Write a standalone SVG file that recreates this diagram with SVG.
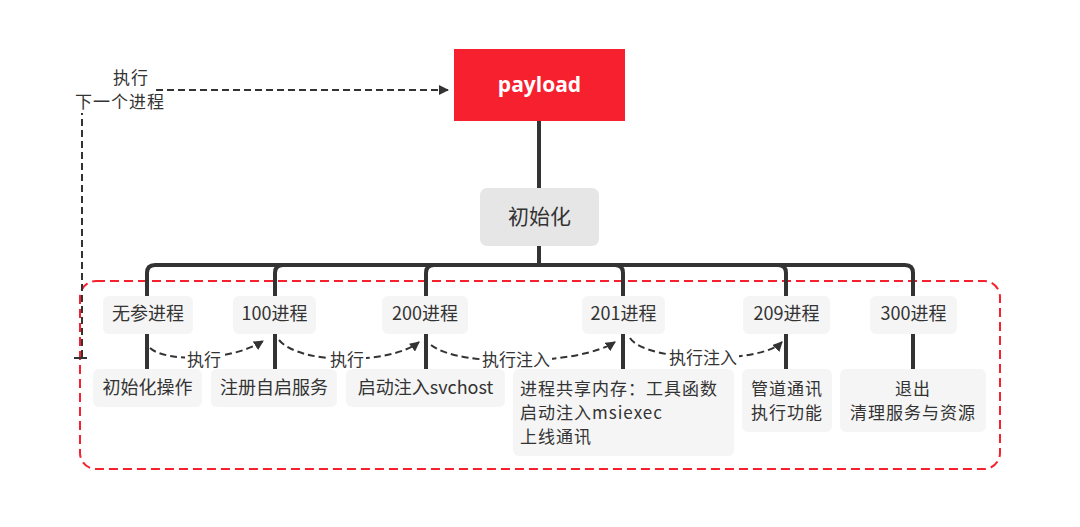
<svg xmlns="http://www.w3.org/2000/svg" width="1080" height="527" viewBox="0 0 1080 527">
<defs>
<marker id="ah" viewBox="0 0 10 10" refX="9" refY="5" markerWidth="5" markerHeight="5" orient="auto-start-reverse" markerUnits="strokeWidth">
<path d="M0,0 L10,5 L0,10 z" fill="#333"/>
</marker>
<style>
.t{font-family:"Noto Sans CJK SC","Noto Sans",sans-serif;fill:#333;}
.m{font-size:17px;letter-spacing:1px;}
.tree{fill:none;stroke:#333;stroke-width:4;stroke-linecap:butt;}
.dash{fill:none;stroke:#333;stroke-width:2;stroke-dasharray:7,4;}
.lbl{font-family:"Noto Sans CJK SC",sans-serif;font-size:17px;fill:#333;text-anchor:middle;}
.n1{fill:#f5f5f5;}
.n2{fill:#f5f5f5;}
</style>
</defs>
<rect width="1080" height="527" fill="#fff"/>

<!-- red dashed region -->
<rect x="80" y="281" width="920" height="188" rx="16" fill="none" stroke="#f7202f" stroke-width="2" stroke-dasharray="9,5"/>

<g id="connectors">
<path class="tree" d="M539,121 V188"/>
<path class="tree" d="M539,246 V265"/>
<path class="tree" d="M147,296 V273 Q147,265 155,265 H905 Q913,265 913,273 V296"/>
<path class="tree" d="M275,296 V273 Q275,265 283,265"/>
<path class="tree" d="M426,296 V273 Q426,265 434,265"/>
<path class="tree" d="M623,296 V273 Q623,265 615,265"/>
<path class="tree" d="M786,296 V273 Q786,265 778,265"/>
<path class="tree" d="M147,333 V369"/>
<path class="tree" d="M275,333 V369"/>
<path class="tree" d="M426,333 V369"/>
<path class="tree" d="M623,333 V369"/>
<path class="tree" d="M786,333 V369"/>
<path class="tree" d="M913,333 V369"/>

<!-- left feedback -->
<path class="dash" d="M82,357 V113"/>
<path d="M74,358 H87" stroke="#333" stroke-width="2"/>
<path class="dash" d="M156,90 H448" marker-end="url(#ah)"/>

<!-- curved dashed -->
<path class="dash" d="M150,348 C165,362 230,362 263,341" marker-end="url(#ah)"/>
<path class="dash" d="M279,340 C300,365 390,365 419,342" marker-end="url(#ah)"/>
<path class="dash" d="M431,345 C460,368 580,365 615,342" marker-end="url(#ah)"/>
<path class="dash" d="M630,338 C645,362 760,365 782,342" marker-end="url(#ah)"/>
<rect x="185" y="350" width="38" height="20" fill="#fff"/>
<text class="lbl" x="204" y="366">执行</text>
<rect x="328" y="350" width="38" height="20" fill="#fff"/>
<text class="lbl" x="347" y="366">执行</text>
<rect x="480" y="350" width="72" height="20" fill="#fff"/>
<text class="lbl" x="516" y="366">执行注入</text>
<rect x="667" y="349" width="72" height="20" fill="#fff"/>
<text class="lbl" x="703" y="364">执行注入</text>
<text class="lbl m" x="131" y="84">执行</text>
<text class="lbl m" x="120" y="108">下一个进程</text>
</g>

<g id="payload">
<rect x="454" y="49" width="171" height="72" fill="#f7202f"/>
<text x="539.5" y="92" text-anchor="middle" font-family="'Open Sans','Noto Sans',sans-serif" font-weight="bold" font-size="21" fill="#fff">payload</text>
</g>
<g id="init">
<rect x="480" y="188" width="119" height="58" rx="7" fill="#e6e6e6"/>
<text class="t" x="539.5" y="224" text-anchor="middle" font-size="21">初始化</text>
</g>

<g id="p0"><rect class="n1" x="103" y="296" width="90" height="38" rx="6"/><text class="t" x="148" y="320" text-anchor="middle" font-size="18">无参进程</text></g>
<g id="p100"><rect class="n1" x="233" y="296" width="83" height="38" rx="6"/><text class="t" x="274.5" y="320" text-anchor="middle" font-size="18">100进程</text></g>
<g id="p200"><rect class="n1" x="382" y="296" width="86" height="38" rx="6"/><text class="t" x="425" y="320" text-anchor="middle" font-size="18">200进程</text></g>
<g id="p201"><rect class="n1" x="582" y="296" width="83" height="38" rx="6"/><text class="t" x="623.5" y="320" text-anchor="middle" font-size="18">201进程</text></g>
<g id="p209"><rect class="n1" x="743" y="296" width="87" height="38" rx="6"/><text class="t" x="786.5" y="320" text-anchor="middle" font-size="18">209进程</text></g>
<g id="p300"><rect class="n1" x="870" y="296" width="87" height="38" rx="6"/><text class="t" x="913.5" y="320" text-anchor="middle" font-size="18">300进程</text></g>

<g id="c0"><rect class="n2" x="93" y="369" width="109" height="38" rx="6"/><text class="t" x="147.5" y="394" text-anchor="middle" font-size="18">初始化操作</text></g>
<g id="c100"><rect class="n2" x="211" y="369" width="126" height="38" rx="6"/><text class="t" x="274" y="394" text-anchor="middle" font-size="18">注册自启服务</text></g>
<g id="c200"><rect class="n2" x="346" y="369" width="159" height="38" rx="6"/><text class="t" x="425.5" y="394" text-anchor="middle" font-size="18">启动注入svchost</text></g>
<g id="c201"><rect class="n2" x="513" y="369" width="221" height="87" rx="6"/>
<text class="t m" x="520" y="395">进程共享内存：工具函数</text>
<text class="t m" x="520" y="419">启动注入msiexec</text>
<text class="t m" x="520" y="443">上线通讯</text></g>
<g id="c209"><rect class="n2" x="742" y="369" width="90" height="63" rx="6"/>
<text class="t m" x="787" y="395" text-anchor="middle">管道通讯</text>
<text class="t m" x="787" y="419" text-anchor="middle">执行功能</text></g>
<g id="c300"><rect class="n2" x="840" y="369" width="146" height="63" rx="6"/>
<text class="t m" x="913" y="395" text-anchor="middle">退出</text>
<text class="t m" x="913" y="419" text-anchor="middle">清理服务与资源</text></g>
</svg>
